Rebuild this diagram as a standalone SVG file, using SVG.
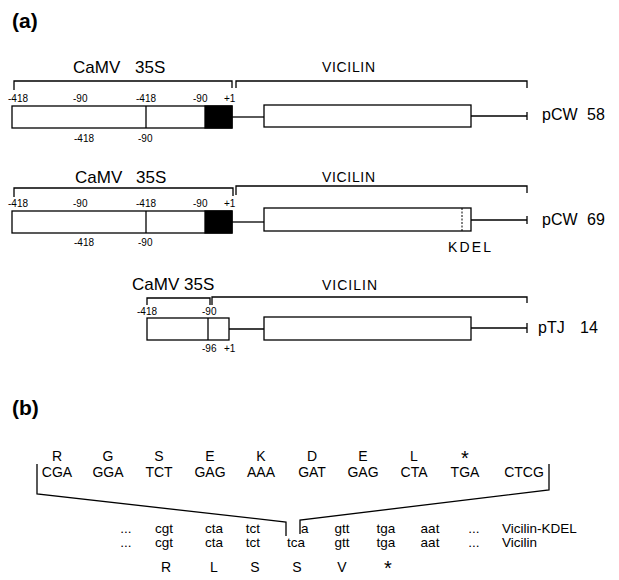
<svg xmlns="http://www.w3.org/2000/svg" width="619" height="580" viewBox="0 0 619 580">
<style>
text{font-family:"Liberation Sans",Arial,sans-serif;fill:#000}
.pl{font-size:21px;font-weight:bold}
.lab{font-size:17px}
.vic{font-size:14px}
.num{font-size:10px}
.name{font-size:16px}
.seq{font-size:14px}
.low{font-size:13.5px}
.mid{text-anchor:middle}
.ln{fill:none;stroke:#000;stroke-width:1.3}
.box{fill:#fff;stroke:#000;stroke-width:1.3}
.blk{fill:#000;stroke:#000;stroke-width:1.3}
.dash{stroke:#000;stroke-width:1;stroke-dasharray:2 1.5}
.star{font-size:20px}
</style>
<text class="pl" x="12" y="28">(a)</text>

<g id="pCW58">
  <text class="lab" y="73"><tspan x="73">CaMV</tspan><tspan x="135">35S</tspan></text>
  <path class="ln" d="M14 90 V81 H232 V88"/>
  <text class="num" x="8" y="102">-418</text>
  <text class="num" x="73" y="102">-90</text>
  <text class="num" x="136" y="102">-418</text>
  <text class="num" x="193" y="102">-90</text>
  <text class="num" x="224" y="102">+1</text>
  <rect class="box" x="12" y="106" width="220" height="22"/>
  <line class="ln" x1="146" y1="106" x2="146" y2="128"/>
  <rect class="blk" x="205" y="106" width="27" height="22"/>
  <text class="num" x="74" y="142">-418</text>
  <text class="num" x="138" y="142">-90</text>
  <text class="vic" x="322" y="72" textLength="53" lengthAdjust="spacing">VICILIN</text>
  <path class="ln" d="M236 88 V81 H527 V88"/>
  <rect class="box" x="264" y="105" width="207" height="22"/>
  <text class="name" y="120"><tspan x="542">pCW</tspan><tspan x="587">58</tspan></text>
</g>

<g id="pCW69">
  <text class="lab" y="183"><tspan x="75">CaMV</tspan><tspan x="136">35S</tspan></text>
  <path class="ln" d="M14 197 V188 H233 V196"/>
  <text class="num" x="8" y="207">-418</text>
  <text class="num" x="73" y="207">-90</text>
  <text class="num" x="136" y="207">-418</text>
  <text class="num" x="193" y="207">-90</text>
  <text class="num" x="224" y="207">+1</text>
  <rect class="box" x="12" y="211" width="220" height="22"/>
  <line class="ln" x1="146" y1="211" x2="146" y2="233"/>
  <rect class="blk" x="205" y="211" width="27" height="22"/>
  <text class="num" x="74" y="246">-418</text>
  <text class="num" x="138" y="246">-90</text>
  <text class="vic" x="322" y="182" textLength="53" lengthAdjust="spacing">VICILIN</text>
  <path class="ln" d="M236 195 V186 H527 V193"/>
  <rect class="box" x="264" y="208" width="207" height="23"/>
  <line class="dash" x1="462" y1="208" x2="462" y2="231"/>
  <text class="vic" x="448" y="252" textLength="43" lengthAdjust="spacing">KDEL</text>
  <text class="name" y="225"><tspan x="542">pCW</tspan><tspan x="587">69</tspan></text>
</g>

<g id="pTJ14">
  <text class="lab" y="290"><tspan x="132">CaMV</tspan><tspan x="184">35S</tspan></text>
  <path class="ln" d="M147 305 V298 H210 V305"/>
  <text class="num" x="137" y="315">-418</text>
  <text class="num" x="202" y="315">-90</text>
  <rect class="box" x="147" y="318" width="82" height="22"/>
  <line class="ln" x1="208" y1="318" x2="208" y2="340"/>
  <text class="num" x="202" y="352">-96</text>
  <text class="num" x="224" y="352">+1</text>
  <text class="vic" x="322" y="290" textLength="55" lengthAdjust="spacing">VICILIN</text>
  <path class="ln" d="M212 305 V297 H527 V303"/>
  <rect class="box" x="264" y="317" width="207" height="23"/>
  <text class="name" y="333"><tspan x="538">pTJ</tspan><tspan x="580">14</tspan></text>
</g>

<g id="connectors">
  <line class="ln" x1="232" y1="117" x2="264" y2="117"/>
  <line class="ln" x1="471" y1="116" x2="527" y2="116"/>
  <line class="ln" x1="527" y1="112" x2="527" y2="120"/>
  <line class="ln" x1="232" y1="222" x2="264" y2="222"/>
  <line class="ln" x1="471" y1="220" x2="527" y2="220"/>
  <line class="ln" x1="527" y1="216" x2="527" y2="224"/>
  <line class="ln" x1="229" y1="329" x2="264" y2="329"/>
  <line class="ln" x1="471" y1="328" x2="527" y2="328"/>
  <line class="ln" x1="527" y1="323" x2="527" y2="333"/>
  <path class="ln" d="M37 464 V494 L286 522 V536"/>
  <path class="ln" d="M549 464 V490 L300 520 V534"/>
</g>

<text class="pl" x="12" y="415">(b)</text>

<g id="kdel-insert">
  <text class="seq mid" x="57" y="461">R</text>
  <text class="seq mid" x="108" y="461">G</text>
  <text class="seq mid" x="159" y="461">S</text>
  <text class="seq mid" x="210" y="461">E</text>
  <text class="seq mid" x="261" y="461">K</text>
  <text class="seq mid" x="312" y="461">D</text>
  <text class="seq mid" x="363" y="461">E</text>
  <text class="seq mid" x="414" y="461">L</text>
  <text class="star mid" x="465" y="465">*</text>
  <text class="seq mid" x="57" y="477">CGA</text>
  <text class="seq mid" x="108" y="477">GGA</text>
  <text class="seq mid" x="159" y="477">TCT</text>
  <text class="seq mid" x="210" y="477">GAG</text>
  <text class="seq mid" x="261" y="477">AAA</text>
  <text class="seq mid" x="312" y="477">GAT</text>
  <text class="seq mid" x="363" y="477">GAG</text>
  <text class="seq mid" x="414" y="477">CTA</text>
  <text class="seq mid" x="465" y="477">TGA</text>
  <text class="seq mid" x="524" y="477">CTCG</text>
</g>

<g id="vicilin-kdel-seq">
  <text class="low mid" x="126" y="533">...</text>
  <text class="low mid" x="164" y="533">cgt</text>
  <text class="low mid" x="214" y="533">cta</text>
  <text class="low mid" x="253" y="533">tct</text>
  <text class="low" x="301" y="533">a</text>
  <text class="low mid" x="342" y="533">gtt</text>
  <text class="low mid" x="386" y="533">tga</text>
  <text class="low mid" x="430" y="533">aat</text>
  <text class="low mid" x="474" y="533">...</text>
  <text class="low" x="502" y="533">Vicilin-KDEL</text>
</g>

<g id="vicilin-seq">
  <text class="low mid" x="126" y="547">...</text>
  <text class="low mid" x="164" y="547">cgt</text>
  <text class="low mid" x="214" y="547">cta</text>
  <text class="low mid" x="253" y="547">tct</text>
  <text class="low mid" x="296" y="547">tca</text>
  <text class="low mid" x="342" y="547">gtt</text>
  <text class="low mid" x="386" y="547">tga</text>
  <text class="low mid" x="430" y="547">aat</text>
  <text class="low mid" x="474" y="547">...</text>
  <text class="low" x="502" y="547">Vicilin</text>
</g>

<g id="vicilin-aa">
  <text class="seq mid" x="166" y="572">R</text>
  <text class="seq mid" x="214" y="572">L</text>
  <text class="seq mid" x="255" y="572">S</text>
  <text class="seq mid" x="297" y="572">S</text>
  <text class="seq mid" x="342" y="572">V</text>
  <text class="star mid" x="388" y="575">*</text>
</g>
</svg>
